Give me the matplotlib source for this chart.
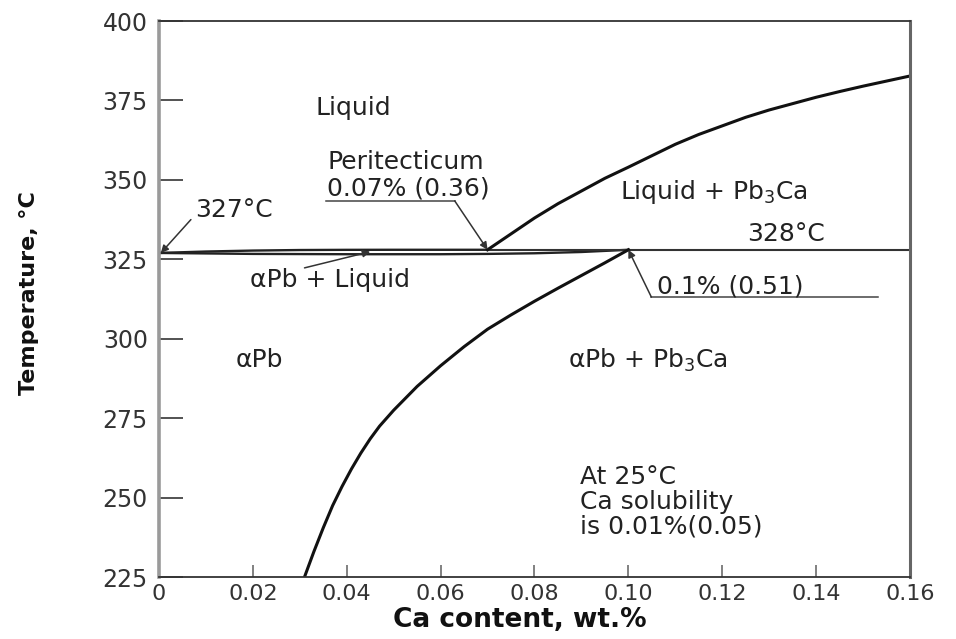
import matplotlib.pyplot as plt

plt.rcParams['font.family'] = ['DejaVu Sans']

# axis ticks
x_ticks = [0, 0.02, 0.04, 0.06, 0.08, 0.10, 0.12, 0.14, 0.16]
x_tick_labels = ["0", "0.02", "0.04", "0.06", "0.08", "0.10", "0.12", "0.14", "0.16"]
y_ticks = [225, 250, 275, 300, 325, 350, 375, 400]

# key points of the Pb-Ca corner
t_melt_pb = 327            # melting point of lead, deg C
t_peritectic = 328         # peritectic isotherm, deg C
ca_peritectic = 0.07       # liquid at the peritectic, wt.% Ca
ca_max_solubility = 0.10   # max. Ca solubility in alpha-Pb, wt.%

# liquidus of alpha-Pb
liq_pb_ca = [0, 0.01, 0.02, 0.03, 0.04, 0.05, 0.06, 0.07]
liq_pb_t = [327, 327.45, 327.75, 327.92, 327.98, 328, 328, 328]

# solidus of alpha-Pb
sol_pb_ca = [0, 0.02, 0.04, 0.06, 0.07, 0.08, 0.09, 0.10]
sol_pb_t = [327, 326.7, 326.6, 326.6, 326.7, 326.9, 327.3, 328]

# liquidus of Pb3Ca
liq_pb3ca_ca = [0.070, 0.075, 0.080, 0.085, 0.090, 0.095, 0.100, 0.105, 0.110,
                0.115, 0.120, 0.125, 0.130, 0.135, 0.140, 0.145, 0.150, 0.155, 0.160]
liq_pb3ca_t = [328, 333, 338, 342.5, 346.5, 350.5, 354, 357.6, 361.2,
               364.3, 367, 369.7, 372, 374, 376, 377.8, 379.5, 381.1, 382.7]

# solvus - solubility of Ca in alpha-Pb
solvus_ca = [0.031, 0.033, 0.035, 0.037, 0.039, 0.041, 0.043, 0.045, 0.047,
             0.050, 0.055, 0.060, 0.065, 0.070, 0.075, 0.080, 0.085, 0.090,
             0.095, 0.100]
solvus_t = [225, 233, 240.5, 247.5, 253.5, 259, 264, 268.5, 272.5,
            277.5, 285, 291.5, 297.5, 303, 307.5, 311.8, 315.9, 319.9,
            323.9, 328]

txt = dict(fontsize=18, color='#222', va='center', ha='left')
arrow = dict(arrowstyle='-|>', lw=1.1, color='#333', mutation_scale=11,
             shrinkA=0, shrinkB=0)

fig = plt.figure(figsize=(9.56, 6.39), dpi=100)
ax = fig.add_axes([0.1663, 0.097, 0.7856, 0.8701])

# phase boundaries
ax.plot(liq_pb_ca, liq_pb_t, color='#222', lw=1.7)
ax.plot(sol_pb_ca, sol_pb_t, color='#222', lw=1.7)
ax.hlines(t_peritectic, ca_peritectic, x_ticks[-1], color='#333', lw=1.5)
ax.plot(liq_pb3ca_ca, liq_pb3ca_t, color='#111', lw=2.2)
ax.plot(solvus_ca, solvus_t, color='#111', lw=2.2)

ax.set_xlim(x_ticks[0], x_ticks[-1])
ax.set_ylim(y_ticks[0], y_ticks[-1])
ax.set_xticks(x_ticks)
ax.set_xticklabels(x_tick_labels)
ax.set_yticks(y_ticks)

ax.spines['left'].set(color='#9a9a9a', lw=2.6)
ax.spines['right'].set(color='#666', lw=2.2)
ax.spines['top'].set(color='#333', lw=1.3)
ax.spines['bottom'].set(color='#333', lw=1.3)
ax.tick_params(axis='y', direction='in', length=17, width=1.3, color='#444',
               pad=8, labelsize=17, labelcolor='#333')
ax.tick_params(axis='x', direction='in', length=9, width=1.3, color='#777',
               pad=5, labelsize=16, labelcolor='#333')

# region names
ax.text(0.0334, 372.6, "Liquid", **txt)
ax.text(0.0982, 346.2, "Liquid + Pb$_3$Ca", **txt)
ax.text(0.0164, 293.3, "\u03b1Pb", **txt)
ax.text(0.0871, 293.3, "\u03b1Pb + Pb$_3$Ca", **txt)
ax.text(0.1253, 333.0, "328\u00b0C", **txt)
ax.text(0.0897, 260.3, "At 25\u00b0C\nCa solubility\nis 0.01%(0.05)",
        fontsize=18, color='#222', ha='left', va='top', linespacing=1.05)

# melting point of Pb
ax.text(0.0077, 340.5, "327\u00b0C", **txt)
ax.annotate("", xy=(0.0004, t_melt_pb), xytext=(0.0068, 337.5), arrowprops=arrow)

# two-phase lens
ax.text(0.0194, 318.5, "\u03b1Pb + Liquid", **txt)
ax.annotate("", xy=(0.045, 327.4), xytext=(0.031, 322.3), arrowprops=arrow)

# peritectic point
ax.text(0.0358, 355.6, "Peritecticum", **txt)
ax.text(0.0358, 347.4, "0.07% (0.36)", **txt)
ax.plot([0.0355, 0.063], [343.4, 343.4], color='#444', lw=1.1)
ax.annotate("", xy=(ca_peritectic, t_peritectic), xytext=(0.063, 343.4),
            arrowprops=arrow)

# maximum solubility
ax.text(0.1061, 316.3, "0.1% (0.51)", **txt)
ax.plot([0.1049, 0.1532], [313.1, 313.1], color='#444', lw=1.1)
ax.annotate("", xy=(ca_max_solubility, t_peritectic), xytext=(0.1049, 313.1),
            arrowprops=arrow)

fig.text(0.030, 0.541, "Temperature, \u00b0C", rotation=90, fontsize=16,
         fontweight='bold', ha='center', va='center', color='#111')
fig.text(0.544, 0.030, "Ca content, wt.%", fontsize=19, fontweight='bold',
         ha='center', va='center', color='#111')

fig.savefig("out.png", dpi=100)
